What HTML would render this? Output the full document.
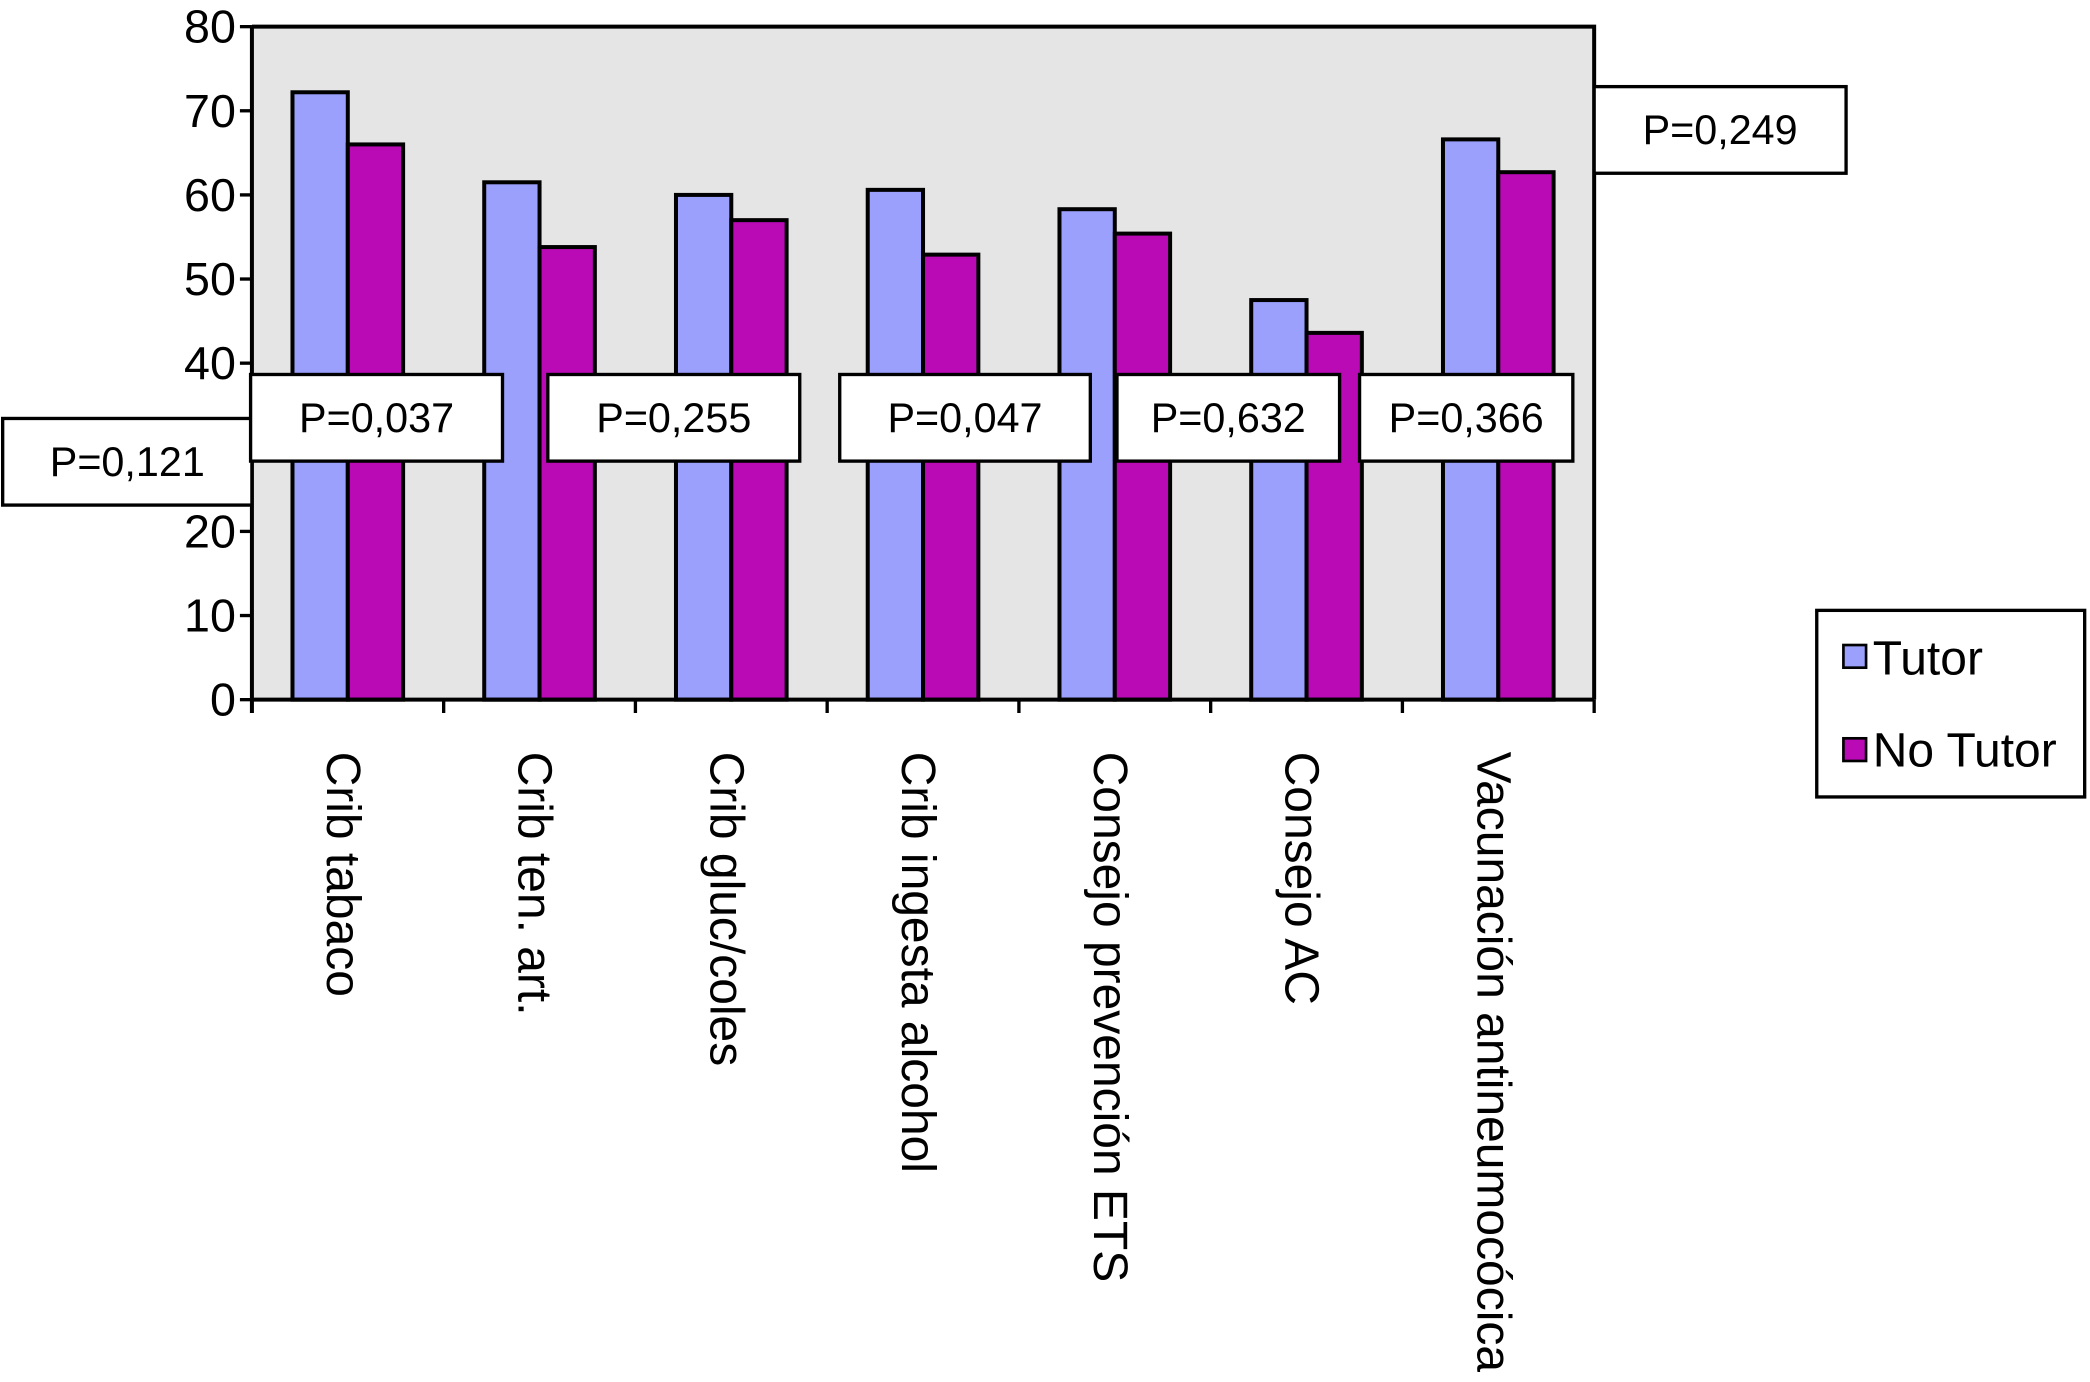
<!DOCTYPE html>
<html><head><meta charset="utf-8"><style>
html,body{margin:0;padding:0;background:#fff;}
svg{display:block;font-family:"Liberation Sans",Arial,sans-serif;}
</style></head><body>
<svg id="chart" width="2090" height="1382" viewBox="0 0 1568 1037" preserveAspectRatio="none" xmlns="http://www.w3.org/2000/svg">
<rect x="189" y="20" width="1007" height="505" fill="#e5e5e5"/>
<g id="bars"></g>
<path d="M189,20H1196V525" fill="none" stroke="#000" stroke-width="3"/>
<g id="axes"></g>
<g id="pboxes"></g>
<g>
<rect x="1363" y="458" width="201" height="140" fill="#fff" stroke="#000" stroke-width="2.5"/>
<rect x="1383" y="484" width="17" height="17" fill="#9aa0fc" stroke="#000" stroke-width="2"/>
<text x="1405" y="506" font-size="36">Tutor</text>
<rect x="1383" y="554" width="17" height="17" fill="#b90ab6" stroke="#000" stroke-width="2"/>
<text x="1405" y="575" font-size="36">No Tutor</text>
</g>
</svg>
<script>
const categories = ["Crib tabaco","Crib ten. art.","Crib gluc/coles","Crib ingesta alcohol","Consejo prevención ETS","Consejo AC","Vacunación antineumocócica"];
const tutorValues = [72.2, 61.5, 60.0, 60.6, 58.3, 47.5, 66.6];
const noTutorValues = [66.0, 53.8, 57.0, 52.9, 55.4, 43.6, 62.7];
const yTicks = [0,10,20,30,40,50,60,70,80];
const pLabels = ["P=0,121","P=0,037","P=0,255","P=0,047","P=0,632","P=0,366","P=0,249"];

const NS = "http://www.w3.org/2000/svg";
const X0 = 189, X1 = 1196, Y0 = 525, Y1 = 20;
const catW = (X1 - X0) / categories.length;
function y(v){ return Y0 - (v / 80) * (Y0 - Y1); }
function xc(i){ return X0 + catW * (i + 0.5); }
function mk(tag, attrs, parent){ const e = document.createElementNS(NS, tag); for (const k in attrs) e.setAttribute(k, attrs[k]); parent.appendChild(e); return e; }

const bars = document.getElementById('bars');
const bw = 41.5;
categories.forEach((c, i) => {
  const a = mk('rect', {x: xc(i) - bw, y: y(tutorValues[i]), width: bw, height: Y0 - y(tutorValues[i]), fill: '#9aa0fc', stroke: '#000', 'stroke-width': 3}, bars);
  
  
  const b = mk('rect', {x: xc(i), y: y(noTutorValues[i]), width: bw, height: Y0 - y(noTutorValues[i]), fill: '#b90ab6', stroke: '#000', 'stroke-width': 3}, bars);
  
  
});

const axes = document.getElementById('axes');
const ya = mk('line', {x1: X0, y1: Y1, x2: X0, y2: Y0 + 10, stroke: '#000', 'stroke-width': 3}, axes);


const xa = mk('line', {x1: X0, y1: Y0, x2: X1, y2: Y0, stroke: '#000', 'stroke-width': 3}, axes);


yTicks.forEach(t => {
  mk('line', {x1: X0 - 9, y1: y(t), x2: X0, y2: y(t), stroke: '#000', 'stroke-width': 2.5}, axes);
  const tx = mk('text', {x: X0 - 12, y: y(t) + 12, 'font-size': 35, 'text-anchor': 'end'}, axes);
  tx.textContent = t;
  
  
});
for (let i = 0; i <= categories.length; i++) {
  mk('line', {x1: X0 + catW * i, y1: Y0, x2: X0 + catW * i, y2: Y0 + 10, stroke: '#000', 'stroke-width': 2.5}, axes);
}
categories.forEach((c, i) => {
  const tx = mk('text', {transform: `translate(${xc(i) - 4},564) rotate(90)`, 'font-size': 36, 'dominant-baseline': 'central'}, axes);
  tx.textContent = c;
  
  
});

const pb = document.getElementById('pboxes');
const boxes = [[2,314,187],[188,281,189],[411,281,189],[630,281,188],[838,281,167],[1020,281,160],[1196,65,189]];
boxes.forEach((bx, i) => {
  const g = mk('g', {}, pb);
  
  
  mk('rect', {x: bx[0], y: bx[1], width: bx[2], height: 65, fill: '#fff', stroke: '#000', 'stroke-width': 2.5}, g);
  const t = mk('text', {x: bx[0] + bx[2] / 2, y: bx[1] + 43, 'font-size': 31, 'text-anchor': 'middle'}, g);
  t.textContent = pLabels[i];
});
</script>
</body></html>
